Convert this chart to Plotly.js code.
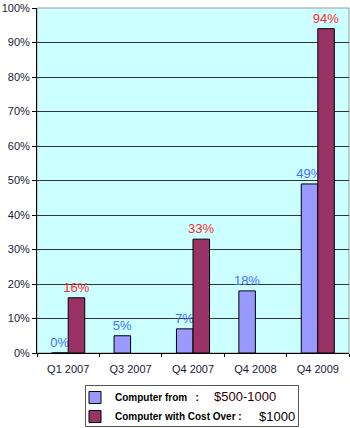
<!DOCTYPE html>
<html>
<head>
<meta charset="utf-8">
<script src="https://cdn.plot.ly/plotly-3.0.1.min.js"></script>
<style>
  html, body { margin: 0; padding: 0; background: #ffffff; }
  #chart { width: 350px; height: 428px; }
</style>
</head>
<body>
<div id="chart"></div>
<script>
// Quarters on the x axis
var quarters = ["Q1 2007", "Q3 2007", "Q4 2007", "Q4 2008", "Q4 2009"];

// Share (%) of computers priced $500-1000
var midRange = [0, 5, 7, 18, 49];

// Share (%) of computers costing over $1000
var overThousand = [16, null, 33, null, 94];

// Legend captions and their price ranges
var seriesNames = ["Computer from\u00A0\u00A0\u00A0:", "Computer with Cost Over :"];
var priceLabels = ["$500-1000", "$1000"];

var yTicks = [0, 10, 20, 30, 40, 50, 60, 70, 80, 90, 100];

function pctText(arr) {
  return arr.map(function (v) { return v === null ? "" : v + "%"; });
}

var font = "Arial, 'Liberation Sans', sans-serif";

// plot area in pixels, used to place the legend frame and price captions
var W = 350, H = 428, L = 37, R = 1, T = 8, B = 75;
function px2x(p) { return (p - L) / (W - L - R); }
function px2y(p) { return (H - B - p) / (H - T - B); }

var traces = [
  {
    type: "bar",
    name: "<b>" + seriesNames[0] + "</b>",
    x: quarters,
    y: midRange,
    text: pctText(midRange),
    textposition: "outside",
    constraintext: "none",
    cliponaxis: false,
    textfont: { family: font, size: 13, color: "#3f6fff" },
    marker: { color: "#9999ff", line: { color: "#000000", width: 1 } },
    hoverinfo: "skip"
  },
  {
    type: "bar",
    name: "<b>" + seriesNames[1] + "</b>",
    x: quarters,
    y: overThousand,
    text: pctText(overThousand),
    textposition: "outside",
    constraintext: "none",
    cliponaxis: false,
    textfont: { family: font, size: 13, color: "#ff2a2a" },
    marker: { color: "#993366", line: { color: "#000000", width: 1 } },
    hoverinfo: "skip"
  }
];

var layout = {
  width: W,
  height: H,
  margin: { l: L, r: R, t: T, b: B, autoexpand: false },
  paper_bgcolor: "#ffffff",
  plot_bgcolor: "#ccffff",
  barmode: "group",
  bargap: 0.47,
  bargroupgap: 0,
  showlegend: true,
  font: { family: font, size: 11, color: "#1a1a33" },
  xaxis: {
    type: "category",
    showline: true,
    linecolor: "#000000",
    linewidth: 1,
    ticks: "outside",
    tickson: "boundaries",
    ticklen: 3,
    ticklabelstandoff: 6,
    tickcolor: "#000000",
    showgrid: false,
    tickfont: { family: font, size: 11, color: "#1a1a33" },
    fixedrange: true
  },
  yaxis: {
    range: [0, 100],
    tickvals: yTicks,
    ticktext: yTicks.map(function (v) { return v + "%"; }),
    showline: true,
    linecolor: "#000000",
    linewidth: 1,
    ticks: "outside",
    ticklen: 4,
    tickcolor: "#000000",
    showgrid: true,
    gridcolor: "#333333",
    gridwidth: 1,
    zeroline: false,
    tickfont: { family: font, size: 11, color: "#1a1a33" },
    fixedrange: true
  },
  legend: {
    orientation: "v",
    x: px2x(75),
    xanchor: "left",
    y: px2y(383),
    yanchor: "top",
    bgcolor: "rgba(0,0,0,0)",
    borderwidth: 0,
    font: { family: font, size: 10, color: "#000000" },
    itemwidth: 30,
    tracegroupgap: 0,
    traceorder: "normal"
  },
  shapes: [
    {
      type: "rect", xref: "paper", yref: "paper",
      x0: 0, x1: 1, y0: 0, y1: 1,
      line: { color: "#999999", width: 1 },
      layer: "below"
    },
    {
      // legend frame
      type: "rect", xref: "paper", yref: "paper",
      x0: px2x(85.5), x1: px2x(298.5), y0: px2y(385.5), y1: px2y(426.5),
      line: { color: "#555555", width: 1 },
      fillcolor: "#ffffff",
      layer: "above"
    }
  ],
  annotations: [
    {
      xref: "paper", yref: "paper",
      x: px2x(278), y: px2y(396),
      xanchor: "right", yanchor: "middle",
      text: priceLabels[0], showarrow: false,
      font: { family: font, size: 13, color: "#330000" }
    },
    {
      xref: "paper", yref: "paper",
      x: px2x(297), y: px2y(416),
      xanchor: "right", yanchor: "middle",
      text: priceLabels[1], showarrow: false,
      font: { family: font, size: 13, color: "#000000" }
    }
  ]
};

Plotly.newPlot("chart", traces, layout, { displayModeBar: false, staticPlot: true });
</script>
</body>
</html>
